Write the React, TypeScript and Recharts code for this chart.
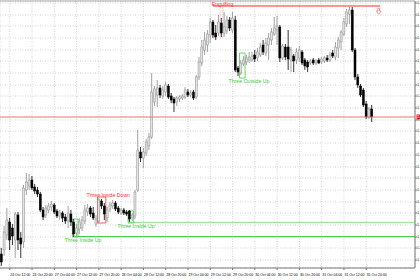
import {
  Bar,
  CartesianGrid,
  ComposedChart,
  ReferenceArea,
  ReferenceDot,
  ReferenceLine,
  XAxis,
  YAxis,
} from 'recharts'

// hourly bars, 24 Oct 09:00 .. 31 Oct 22:00
const opens = [
  1.2546, 1.2550, 1.2565, 1.2578, 1.2572, 1.2560, 1.2585, 1.2562, 1.2558, 1.2610,
  1.2614, 1.2620, 1.2613, 1.2610, 1.2606, 1.2590, 1.2585, 1.2590, 1.2593, 1.2595,
  1.2589, 1.2584, 1.2587, 1.2583, 1.2579, 1.2586, 1.2578, 1.2567, 1.2571, 1.2572,
  1.2579, 1.2588, 1.2592, 1.2587, 1.2576, 1.2579, 1.2599, 1.2594, 1.2582, 1.2591,
  1.2594, 1.2597, 1.2592, 1.2587, 1.2590, 1.2588, 1.2589, 1.2582, 1.2584, 1.2610,
  1.2648, 1.2642, 1.2647, 1.2654, 1.2663, 1.2698, 1.2705, 1.2712, 1.2704, 1.2708,
  1.2714, 1.2704, 1.2701, 1.2698, 1.2701, 1.2702, 1.2703, 1.2708, 1.2705, 1.2708,
  1.2703, 1.2723, 1.2737, 1.2750, 1.2755, 1.2765, 1.2778, 1.2767, 1.2767, 1.2777,
  1.2767, 1.2769, 1.2780, 1.2770, 1.2780, 1.2732, 1.2727, 1.2736, 1.2738, 1.2740,
  1.2740, 1.2745, 1.2742, 1.2745, 1.2755, 1.2747, 1.2755, 1.2760, 1.2766, 1.2770,
  1.2773, 1.2742, 1.2753, 1.2753, 1.2740, 1.2744, 1.2740, 1.2742, 1.2748, 1.2740,
  1.2738, 1.2737, 1.2740, 1.2737, 1.2740, 1.2738, 1.2739, 1.2742, 1.2740, 1.2747,
  1.2743, 1.2752, 1.2758, 1.2766, 1.2776, 1.2786, 1.2790, 1.2750, 1.2723, 1.2714,
  1.2710, 1.2696, 1.2683, 1.2691,
]
const highs = [
  1.2552, 1.2574, 1.2592, 1.2582, 1.2576, 1.2588, 1.2588, 1.2568, 1.2615, 1.2627,
  1.2626, 1.2624, 1.2616, 1.2613, 1.2608, 1.2593, 1.2595, 1.2597, 1.2599, 1.2597,
  1.2591, 1.2590, 1.2589, 1.2586, 1.2594, 1.2590, 1.2581, 1.2576, 1.2582, 1.2584,
  1.2595, 1.2596, 1.2594, 1.2593, 1.2585, 1.2602, 1.2601, 1.2597, 1.2593, 1.2598,
  1.2600, 1.2599, 1.2594, 1.2592, 1.2592, 1.2590, 1.2590, 1.2587, 1.2610, 1.2670,
  1.2653, 1.2652, 1.2661, 1.2667, 1.2727, 1.2714, 1.2720, 1.2715, 1.2714, 1.2718,
  1.2716, 1.2707, 1.2703, 1.2704, 1.2705, 1.2706, 1.2713, 1.2711, 1.2710, 1.2710,
  1.2725, 1.2743, 1.2760, 1.2768, 1.2770, 1.2782, 1.2780, 1.2775, 1.2785, 1.2782,
  1.2788, 1.2784, 1.2783, 1.2788, 1.2784, 1.2734, 1.2740, 1.2744, 1.2745, 1.2748,
  1.2748, 1.2750, 1.2752, 1.2757, 1.2760, 1.2762, 1.2767, 1.2772, 1.2783, 1.2784,
  1.2775, 1.2756, 1.2756, 1.2770, 1.2753, 1.2746, 1.2752, 1.2754, 1.2750, 1.2742,
  1.2740, 1.2741, 1.2742, 1.2741, 1.2742, 1.2743, 1.2744, 1.2745, 1.2748, 1.2750,
  1.2758, 1.2763, 1.2770, 1.2782, 1.2791, 1.2793, 1.2793, 1.2752, 1.2726, 1.2716,
  1.2712, 1.2699, 1.2693, 1.2695,
]
const lows = [
  1.2534, 1.2544, 1.2560, 1.2550, 1.2555, 1.2542, 1.2550, 1.2542, 1.2552, 1.2605,
  1.2610, 1.2610, 1.2606, 1.2603, 1.2588, 1.2580, 1.2582, 1.2587, 1.2589, 1.2586,
  1.2582, 1.2580, 1.2578, 1.2576, 1.2572, 1.2574, 1.2563, 1.2564, 1.2566, 1.2569,
  1.2576, 1.2584, 1.2583, 1.2580, 1.2573, 1.2577, 1.2591, 1.2580, 1.2578, 1.2588,
  1.2591, 1.2589, 1.2586, 1.2585, 1.2585, 1.2584, 1.2578, 1.2579, 1.2581, 1.2608,
  1.2638, 1.2632, 1.2644, 1.2650, 1.2661, 1.2694, 1.2693, 1.2702, 1.2701, 1.2704,
  1.2701, 1.2697, 1.2688, 1.2694, 1.2698, 1.2700, 1.2701, 1.2703, 1.2703, 1.2700,
  1.2701, 1.2720, 1.2734, 1.2745, 1.2748, 1.2757, 1.2762, 1.2760, 1.2764, 1.2763,
  1.2763, 1.2766, 1.2769, 1.2767, 1.2728, 1.2724, 1.2725, 1.2734, 1.2735, 1.2737,
  1.2738, 1.2738, 1.2739, 1.2743, 1.2745, 1.2744, 1.2740, 1.2755, 1.2764, 1.2755,
  1.2738, 1.2740, 1.2740, 1.2730, 1.2728, 1.2728, 1.2736, 1.2738, 1.2735, 1.2730,
  1.2728, 1.2735, 1.2735, 1.2735, 1.2736, 1.2736, 1.2737, 1.2738, 1.2738, 1.2742,
  1.2740, 1.2742, 1.2750, 1.2764, 1.2773, 1.2776, 1.2748, 1.2720, 1.2712, 1.2703,
  1.2693, 1.2681, 1.2681, 1.2678,
]
const closes = [
  1.2538, 1.2568, 1.2580, 1.2560, 1.2564, 1.2586, 1.2560, 1.2556, 1.2612, 1.2618,
  1.2620, 1.2612, 1.2609, 1.2606, 1.2590, 1.2583, 1.2592, 1.2594, 1.2596, 1.2588,
  1.2584, 1.2587, 1.2582, 1.2579, 1.2587, 1.2578, 1.2566, 1.2572, 1.2578, 1.2580,
  1.2590, 1.2592, 1.2586, 1.2582, 1.2581, 1.2600, 1.2594, 1.2586, 1.2590, 1.2595,
  1.2597, 1.2591, 1.2588, 1.2590, 1.2587, 1.2586, 1.2581, 1.2585, 1.2608, 1.2650,
  1.2642, 1.2648, 1.2658, 1.2663, 1.2708, 1.2711, 1.2712, 1.2705, 1.2710, 1.2715,
  1.2703, 1.2700, 1.2697, 1.2702, 1.2703, 1.2704, 1.2710, 1.2705, 1.2707, 1.2702,
  1.2723, 1.2738, 1.2753, 1.2760, 1.2766, 1.2778, 1.2765, 1.2763, 1.2778, 1.2767,
  1.2773, 1.2780, 1.2772, 1.2782, 1.2730, 1.2728, 1.2737, 1.2740, 1.2742, 1.2743,
  1.2744, 1.2741, 1.2748, 1.2753, 1.2748, 1.2757, 1.2762, 1.2768, 1.2772, 1.2774,
  1.2742, 1.2754, 1.2743, 1.2741, 1.2750, 1.2739, 1.2748, 1.2750, 1.2737, 1.2734,
  1.2733, 1.2739, 1.2737, 1.2739, 1.2737, 1.2741, 1.2742, 1.2740, 1.2745, 1.2744,
  1.2753, 1.2760, 1.2768, 1.2778, 1.2788, 1.2790, 1.2750, 1.2723, 1.2715, 1.2705,
  1.2695, 1.2683, 1.2691, 1.2683,
]

// bar index of each time label on the bottom axis
const tickBars = [3, 11, 19, 27, 35, 43, 51, 59, 67, 75, 83, 91, 99, 107, 115, 123, 131]
const tickLabels = [
  '24 Oct 12:00', '24 Oct 20:00', '27 Oct 04:00', '27 Oct 12:00', '27 Oct 20:00',
  '28 Oct 04:00', '28 Oct 12:00', '28 Oct 20:00', '29 Oct 04:00', '29 Oct 12:00',
  '29 Oct 20:00', '30 Oct 04:00', '30 Oct 12:00', '30 Oct 20:00', '31 Oct 04:00',
  '31 Oct 12:00', '31 Oct 20:00',
]
const priceTicks = [
  1.2540, 1.2552, 1.2563, 1.2575, 1.2587, 1.2598, 1.2610, 1.2622, 1.2633, 1.2645,
  1.2657, 1.2669, 1.2680, 1.2692, 1.2704, 1.2715, 1.2727, 1.2739, 1.2750, 1.2762,
  1.2774, 1.2785, 1.2797,
]

const lastPrice = 1.2683
const engulfingLevel = 1.2794
const insideUpLevel1 = 1.2563
const insideUpLevel2 = 1.2577

// visible hour slots, the tail stays empty (chart shift)
const slotCount = 149
const FONT = '"Liberation Sans", Arial, sans-serif'

const rows = Array.from({ length: slotCount }, (_, i) => ({
  t: i,
  open: opens[i],
  high: highs[i],
  low: lows[i],
  close: closes[i],
}))

function Candle(props: any) {
  const { x, y, width, height, payload } = props
  if (!payload || payload.open == null) return null
  const { open, high, low, close } = payload
  const top = Math.min(y, y + height)
  const h = Math.abs(height)
  const k = high === low ? 0 : h / (high - low)
  const py = (v: number) => top + (high - v) * k
  const cx = x + width / 2
  const up = close >= open
  const b0 = py(Math.max(open, close))
  const b1 = py(Math.min(open, close))
  return (
    <g>
      <line x1={cx} x2={cx} y1={top} y2={top + h} stroke={up ? '#8c8c8c' : '#000'} strokeWidth={0.8} />
      <rect
        x={cx - 1}
        y={b0}
        width={2}
        height={Math.max(b1 - b0, 0.8)}
        fill={up ? '#e4e4e4' : '#000'}
        stroke={up ? '#8c8c8c' : '#000'}
        strokeWidth={0.5}
      />
    </g>
  )
}

// labels sit under the bottom frame line (plot bottom is at 268)
function TimeTick({ x, payload }: any) {
  const label = tickLabels[tickBars.indexOf(payload.value)]
  return (
    <text x={x + 0.5} y={275.5} fontSize={3.5} fontFamily={FONT} fill="#000">
      {label}
    </text>
  )
}

function PriceTick({ x, y, payload }: any) {
  return (
    <text x={x} y={y + 1.2} fontSize={3.5} fontFamily={FONT} fill="#000">
      {payload.value.toFixed(4)}
    </text>
  )
}

const patternLabel = (text: string, color: string, dx: number, dy: number, above: boolean) =>
  (p: any) => {
    const { x, y, height } = p.viewBox
    return (
      <text x={x + dx} y={above ? y + dy : y + height + dy} fontSize={5.2} fontFamily={FONT} fill={color}>
        {text}
      </text>
    )
  }

const priceTag = (p: any) => {
  const { x, y, width } = p.viewBox
  return (
    <g>
      <rect x={x + width + 1.5} y={y - 2.5} width={6} height={5} fill="#e82020" />
      <text x={x + width + 2} y={y + 1.2} fontSize={3.5} fontFamily={FONT} fill="#fff">
        {lastPrice.toFixed(4)}
      </text>
    </g>
  )
}

export default function App() {
  return (
    <div style={{ position: 'absolute', left: 0, top: 0, width: 420, height: 280, background: '#fff' }}>
      <ComposedChart width={420} height={280} data={rows} margin={{ top: 1, right: 0, left: 0, bottom: 0 }}>
        <CartesianGrid stroke="#d4d4d4" strokeDasharray="1 1.5" />
        <XAxis
          dataKey="t"
          type="category"
          ticks={tickBars}
          interval={0}
          height={12}
          tickSize={2}
          tickMargin={0}
          tick={<TimeTick />}
          tickLine={{ stroke: '#777' }}
          axisLine={{ stroke: '#777' }}
        />
        <YAxis
          orientation="right"
          width={5}
          domain={[1.2532, 1.2799]}
          allowDataOverflow
          ticks={priceTicks}
          interval={0}
          tickSize={2}
          tickMargin={0}
          tick={<PriceTick />}
          tickLine={{ stroke: '#777' }}
          axisLine={{ stroke: '#777' }}
        />
        <ReferenceLine y={1.2799} stroke="#a8a8a8" strokeWidth={1.2} />

        <ReferenceArea x1={46} y1={insideUpLevel2} y2={insideUpLevel2 + 0.00012} fill="#9fe69f" fillOpacity={1} stroke="none" />
        <ReferenceArea x1={27} y1={insideUpLevel1} y2={insideUpLevel1 + 0.0001} fill="#45cf45" fillOpacity={1} stroke="none" />
        <ReferenceLine y={lastPrice} stroke="#f07070" strokeWidth={1} label={priceTag} />

        <Bar dataKey={(d: any) => (d.open == null ? null : [d.low, d.high])} shape={Candle} isAnimationActive={false} />

        <ReferenceArea
          x1={26}
          x2={27}
          y1={1.2563}
          y2={1.2581}
          fill="none"
          stroke="#44cc44"
          strokeWidth={0.8}
          label={patternLabel('Three Inside Up', '#44c844', -8, 4.5, false)}
        />
        <ReferenceArea
          x1={35}
          x2={37}
          y1={1.2577}
          y2={1.2603}
          fill="none"
          stroke="#ff3030"
          strokeWidth={0.8}
          label={patternLabel('Three Inside Down', '#ff3030', -11, -0.5, true)}
        />
        <ReferenceArea
          x1={46}
          x2={47}
          y1={1.2577}
          y2={1.2589}
          fill="none"
          stroke="#44cc44"
          strokeWidth={0.8}
          label={patternLabel('Three Inside Up', '#44c844', -10.5, 4.8, false)}
        />
        <ReferenceArea
          x1={86}
          x2={87}
          y1={1.2722}
          y2={1.2747}
          fill="none"
          stroke="#44cc44"
          strokeWidth={0.8}
          label={patternLabel('Three Outside Up', '#44c844', -11, 4.5, false)}
        />
        <ReferenceArea
          x1={79}
          x2={79}
          y1={1.2763}
          y2={1.2793}
          fill="none"
          stroke="#f08a8a"
          strokeWidth={0.6}
          strokeDasharray="1 1"
        />
        <ReferenceLine
          segment={[
            { x: 76, y: engulfingLevel },
            { x: 136, y: engulfingLevel },
          ]}
          stroke="#ff2a2a"
          strokeWidth={1.2}
        />
        <ReferenceDot
          x={75}
          y={engulfingLevel}
          shape={(p: any) => (
            <text x={p.cx + 1.4} y={p.cy - 0.3} fontSize={5.2} fontFamily={FONT} fill="#ff3030">
              Engulfing
            </text>
          )}
        />
        <ReferenceDot
          x={135}
          y={1.27885}
          shape={(p: any) => {
            const cx = p.cx + 1.3
            const cy = p.cy
            return (
              <path
                d={`M${cx - 0.8} ${cy - 3.4} h1.6 v3 h1.6 l-2.4 3.2 l-2.4 -3.2 h1.6 z`}
                fill="#fff"
                stroke="#ff5050"
                strokeWidth={0.6}
              />
            )
          }}
        />
      </ComposedChart>
    </div>
  )
}
